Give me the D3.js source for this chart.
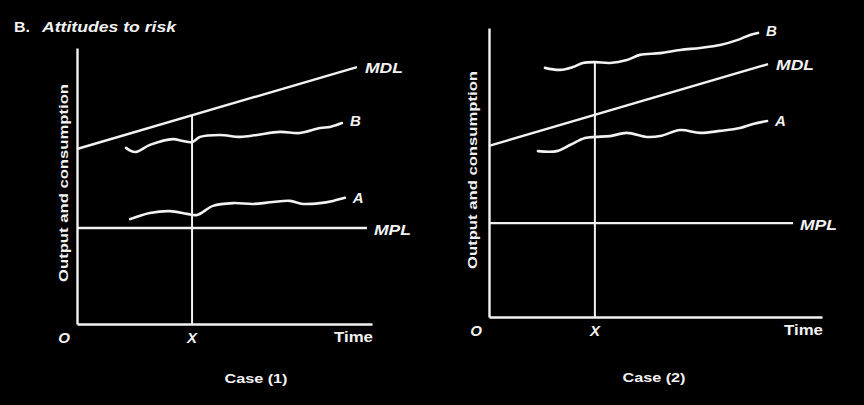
<!DOCTYPE html>
<html><head><meta charset="utf-8">
<script src="https://cdn.jsdelivr.net/npm/d3@7"></script>
<style>
html,body{margin:0;padding:0;background:#000;}
svg{display:block;}
text{font-family:"Liberation Sans",Arial,sans-serif;fill:#f2f2f2;}
</style></head>
<body>
<script>
// ---- data (arbitrary units: time 0..10, output 0..10) ----
const timeDomain = [0, 10];
const outputDomain = [0, 10];
const caseLabels = ["Case (1)", "Case (2)"];
const xMarks = [3.9, 3.18];

const case1MDL = [[0, 6.34], [9.49, 9.31]];
const case1MPL = [[0, 3.48], [9.83, 3.48]];
const case1B = [[1.66,6.38],[1.97,6.23],[2.47,6.49],[3.25,6.70],[3.59,6.63],[3.90,6.59],[4.17,6.78],[4.85,6.85],[5.53,6.78],[6.10,6.85],[6.88,6.96],[7.56,6.92],[8.24,7.10],[8.58,7.14],[8.98,7.28]];
const case1A = [[1.80,3.80],[2.47,4.02],[3.15,4.09],[3.73,3.99],[4.07,3.95],[4.61,4.28],[5.29,4.38],[5.97,4.35],[6.64,4.42],[7.22,4.46],[7.66,4.35],[8.24,4.38],[8.68,4.46],[9.08,4.57]];

const case2MDL = [[0, 5.92], [8.38, 8.75]];
const case2MPL = [[0, 3.25], [9.13, 3.25]];
const case2B = [[1.68,8.62],[2.13,8.55],[2.52,8.65],[2.82,8.79],[3.18,8.82],[3.63,8.79],[4.14,8.89],[4.53,9.07],[5.14,9.13],[5.74,9.24],[6.34,9.31],[6.94,9.41],[7.45,9.58],[7.84,9.76],[8.08,9.83]];
const case2A = [[1.47,5.74],[2.04,5.74],[2.43,5.95],[2.88,6.19],[3.18,6.23],[3.63,6.26],[4.14,6.37],[4.74,6.23],[5.14,6.26],[5.74,6.47],[6.34,6.37],[6.94,6.44],[7.54,6.54],[7.93,6.68],[8.35,6.78]];

const seriesNames = ["MDL", "MPL", "B", "A"];
const axisLabels = ["O", "X", "Time"];
const yTitle = "Output and consumption";

// ---- drawing ----
const W = 864, H = 405;
const svg = d3.select("body").append("svg").attr("width", W).attr("height", H);
svg.append("rect").attr("width", W).attr("height", H).attr("fill", "#000");

const title = svg.append("text").attr("x", 14).attr("y", 32).attr("font-size", 14).attr("font-weight", "bold");
title.append("tspan").attr("textLength", 16).attr("lengthAdjust", "spacingAndGlyphs").text("B.");
title.append("tspan").attr("x", 42).attr("font-style", "italic").attr("textLength", 134).attr("lengthAdjust", "spacingAndGlyphs").text("Attitudes to risk");

const panels = [
  {x0: 77, x1: 372, y0: 324, y1: 48, mdl: case1MDL, mpl: case1MPL, b: case1B, a: case1A, xm: xMarks[0], xmTop: "mdl", caseX: 256, caseY: 383, yLabX: 68, yLabY: 183},
  {x0: 489, x1: 822, y0: 317, y1: 28, mdl: case2MDL, mpl: case2MPL, b: case2B, a: case2A, xm: xMarks[1], xmTop: "b", caseX: 654, caseY: 382, yLabX: 477, yLabY: 170}
];

const stroke = "#f2f2f2";
const lw = 2.4;

panels.forEach((p, i) => {
  const x = d3.scaleLinear().domain(timeDomain).range([p.x0, p.x1]);
  const y = d3.scaleLinear().domain(outputDomain).range([p.y0, p.y1]);
  const g = svg.append("g");

  // axes (no ticks)
  const xAxis = d3.axisBottom(x).tickValues([]).tickSizeOuter(0);
  g.append("g").attr("transform", `translate(0,${p.y0})`).call(xAxis)
    .call(s => s.select(".domain").attr("stroke", stroke).attr("stroke-width", lw));
  const yAxis = d3.axisLeft(y).tickValues([]).tickSizeOuter(0);
  g.append("g").attr("transform", `translate(${p.x0},0)`).call(yAxis)
    .call(s => s.select(".domain").attr("stroke", stroke).attr("stroke-width", lw));

  const straight = d3.line().x(d => x(d[0])).y(d => y(d[1]));
  const wavy = d3.line().x(d => x(d[0])).y(d => y(d[1])).curve(d3.curveCatmullRom.alpha(0.5));

  // vertical line at X
  let topY;
  if (p.xmTop === "mdl") {
    const t = (p.xm - p.mdl[0][0]) / (p.mdl[1][0] - p.mdl[0][0]);
    topY = p.mdl[0][1] + t * (p.mdl[1][1] - p.mdl[0][1]);
  } else {
    const pt = p.b.reduce((a, c) => Math.abs(c[0] - p.xm) < Math.abs(a[0] - p.xm) ? c : a);
    topY = pt[1];
  }
  g.append("path").attr("d", straight([[p.xm, 0], [p.xm, topY]]))
    .attr("fill", "none").attr("stroke", stroke).attr("stroke-width", 2);

  g.append("path").attr("d", straight(p.mdl)).attr("fill", "none").attr("stroke", stroke).attr("stroke-width", lw);
  g.append("path").attr("d", straight(p.mpl)).attr("fill", "none").attr("stroke", stroke).attr("stroke-width", lw);
  g.append("path").attr("d", wavy(p.b)).attr("fill", "none").attr("stroke", stroke).attr("stroke-width", lw + 0.2).attr("stroke-linecap", "round");
  g.append("path").attr("d", wavy(p.a)).attr("fill", "none").attr("stroke", stroke).attr("stroke-width", lw + 0.2).attr("stroke-linecap", "round");

  const lab = (pt, dx, dy, txt, len) => {
    const t = g.append("text")
      .attr("x", x(pt[0]) + dx).attr("y", y(pt[1]) + dy)
      .attr("font-size", 15).attr("font-weight", "bold").attr("font-style", "italic").text(txt);
    if (len) t.attr("textLength", len).attr("lengthAdjust", "spacingAndGlyphs");
  };
  const mdlEnd = p.mdl[p.mdl.length - 1], mplEnd = p.mpl[p.mpl.length - 1];
  const bEnd = p.b[p.b.length - 1], aEnd = p.a[p.a.length - 1];
  lab(mdlEnd, 8, 6, seriesNames[0], 38);
  lab(mplEnd, 7, 7, seriesNames[1], 37);
  lab(bEnd, 8, 3, seriesNames[2]);
  lab(aEnd, 8, 5, seriesNames[3]);

  // axis labels O, X, Time
  g.append("text").attr("x", p.x0 - 13).attr("y", p.y0 + 19).attr("text-anchor", "middle")
    .attr("font-size", 15).attr("font-weight", "bold").attr("font-style", "italic").text(axisLabels[0]);
  g.append("text").attr("x", x(p.xm)).attr("y", p.y0 + 19).attr("text-anchor", "middle")
    .attr("font-size", 15).attr("font-weight", "bold").attr("font-style", "italic").text(axisLabels[1]);
  g.append("text").attr("x", p.x1 + 1).attr("y", p.y0 + 18).attr("text-anchor", "end")
    .attr("font-size", 15).attr("font-weight", "bold").attr("textLength", 39).attr("lengthAdjust", "spacingAndGlyphs").text(axisLabels[2]);

  // y title
  g.append("text").attr("transform", `translate(${p.yLabX},${p.yLabY}) rotate(-90)`)
    .attr("text-anchor", "middle").attr("font-size", 13).attr("font-weight", "bold")
    .attr("textLength", 198).attr("lengthAdjust", "spacingAndGlyphs").text(yTitle);

  // case label
  g.append("text").attr("x", p.caseX).attr("y", p.caseY).attr("text-anchor", "middle")
    .attr("font-size", 12).attr("font-weight", "bold").attr("textLength", 63).attr("lengthAdjust", "spacingAndGlyphs").text(caseLabels[i]);
});
</script>
</body></html>
